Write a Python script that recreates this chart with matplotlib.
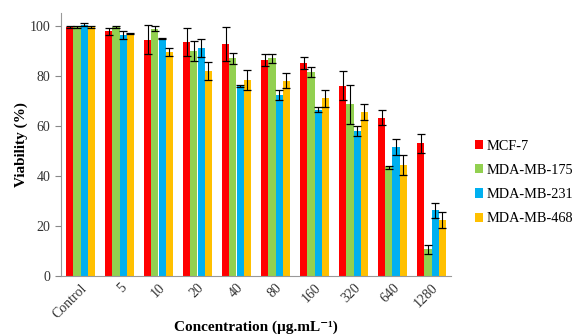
import numpy as np
import matplotlib.pyplot as plt
from matplotlib.patches import Patch

categories = ["Control", "5", "10", "20", "40", "80", "160", "320", "640", "1280"]
series = ["MCF-7", "MDA-MB-175", "MDA-MB-231", "MDA-MB-468"]
colors = ["#FF0000", "#92D050", "#00B0F0", "#FFC000"]

mcf7 = [99.6, 97.8, 94.5, 93.6, 92.7, 86.3, 85.2, 76.0, 63.3, 53.0]
mda175 = [99.5, 99.6, 98.8, 90.0, 87.0, 87.0, 81.6, 68.7, 43.5, 10.7]
mda231 = [100.5, 96.4, 94.8, 91.2, 76.0, 72.4, 66.4, 58.0, 51.5, 26.4]
mda468 = [99.6, 96.8, 89.6, 82.0, 78.4, 78.0, 71.0, 65.5, 44.4, 22.4]

mcf7_err = [0.5, 1.3, 5.9, 5.6, 6.8, 2.5, 2.5, 5.8, 3.0, 3.7]
mda175_err = [0.3, 0.3, 1.0, 4.0, 2.2, 1.8, 2.0, 7.8, 0.5, 1.8]
mda231_err = [0.6, 1.6, 0.2, 3.6, 0.5, 2.0, 1.0, 2.0, 3.2, 3.0]
mda468_err = [0.4, 0.2, 1.4, 3.6, 4.0, 3.0, 3.3, 3.2, 4.0, 3.3]

values = [mcf7, mda175, mda231, mda468]
errors = [mcf7_err, mda175_err, mda231_err, mda468_err]

plt.rcParams['font.family'] = ['Liberation Serif', 'DejaVu Serif']

fig = plt.figure(figsize=(5.72, 3.36), dpi=100)
ax = fig.add_axes([61 / 572, 60 / 336, 390 / 572, 262.5 / 336])

x = np.arange(len(categories))
w = 0.182
for i in range(4):
    pos = x + (i - 1.5) * w
    ax.bar(pos, values[i], width=w, color=colors[i], edgecolor='none', zorder=2)
    ax.errorbar(pos, values[i], yerr=errors[i], fmt='none', ecolor='black',
                elinewidth=0.8, capsize=3, capthick=0.9, zorder=3)

ax.set_xlim(-0.5, len(categories) - 0.5)
ax.set_ylim(0, 105)
ax.set_yticks([0, 20, 40, 60, 80, 100])
ax.set_xticks(x)
ax.set_xticklabels(categories, rotation=45, ha='right', rotation_mode='anchor')
ax.tick_params(axis='x', length=0, labelsize=10, colors='#333333', pad=4)
ax.tick_params(axis='y', length=4, color='#888888', labelsize=10, colors='#333333')
for s in ['top', 'right']:
    ax.spines[s].set_visible(False)
for s in ['left', 'bottom']:
    ax.spines[s].set_color('#999999')

ax.set_ylabel("Viability (%)", fontsize=11, fontweight='bold', labelpad=1)
ax.set_xlabel("Concentration (\u00b5g.mL\u207b\u00b9)", fontsize=11,
              fontweight='bold', labelpad=0)

handles = [Patch(facecolor=c, edgecolor='none') for c in colors]
fig.legend(handles, series, loc='upper left', bbox_to_anchor=(469 / 572, 1 - 134 / 336),
           frameon=False, fontsize=10.3, handlelength=0.6, handleheight=0.6,
           handletextpad=0.2, labelspacing=0.78, borderaxespad=0)

fig.savefig("out.png", dpi=100)
